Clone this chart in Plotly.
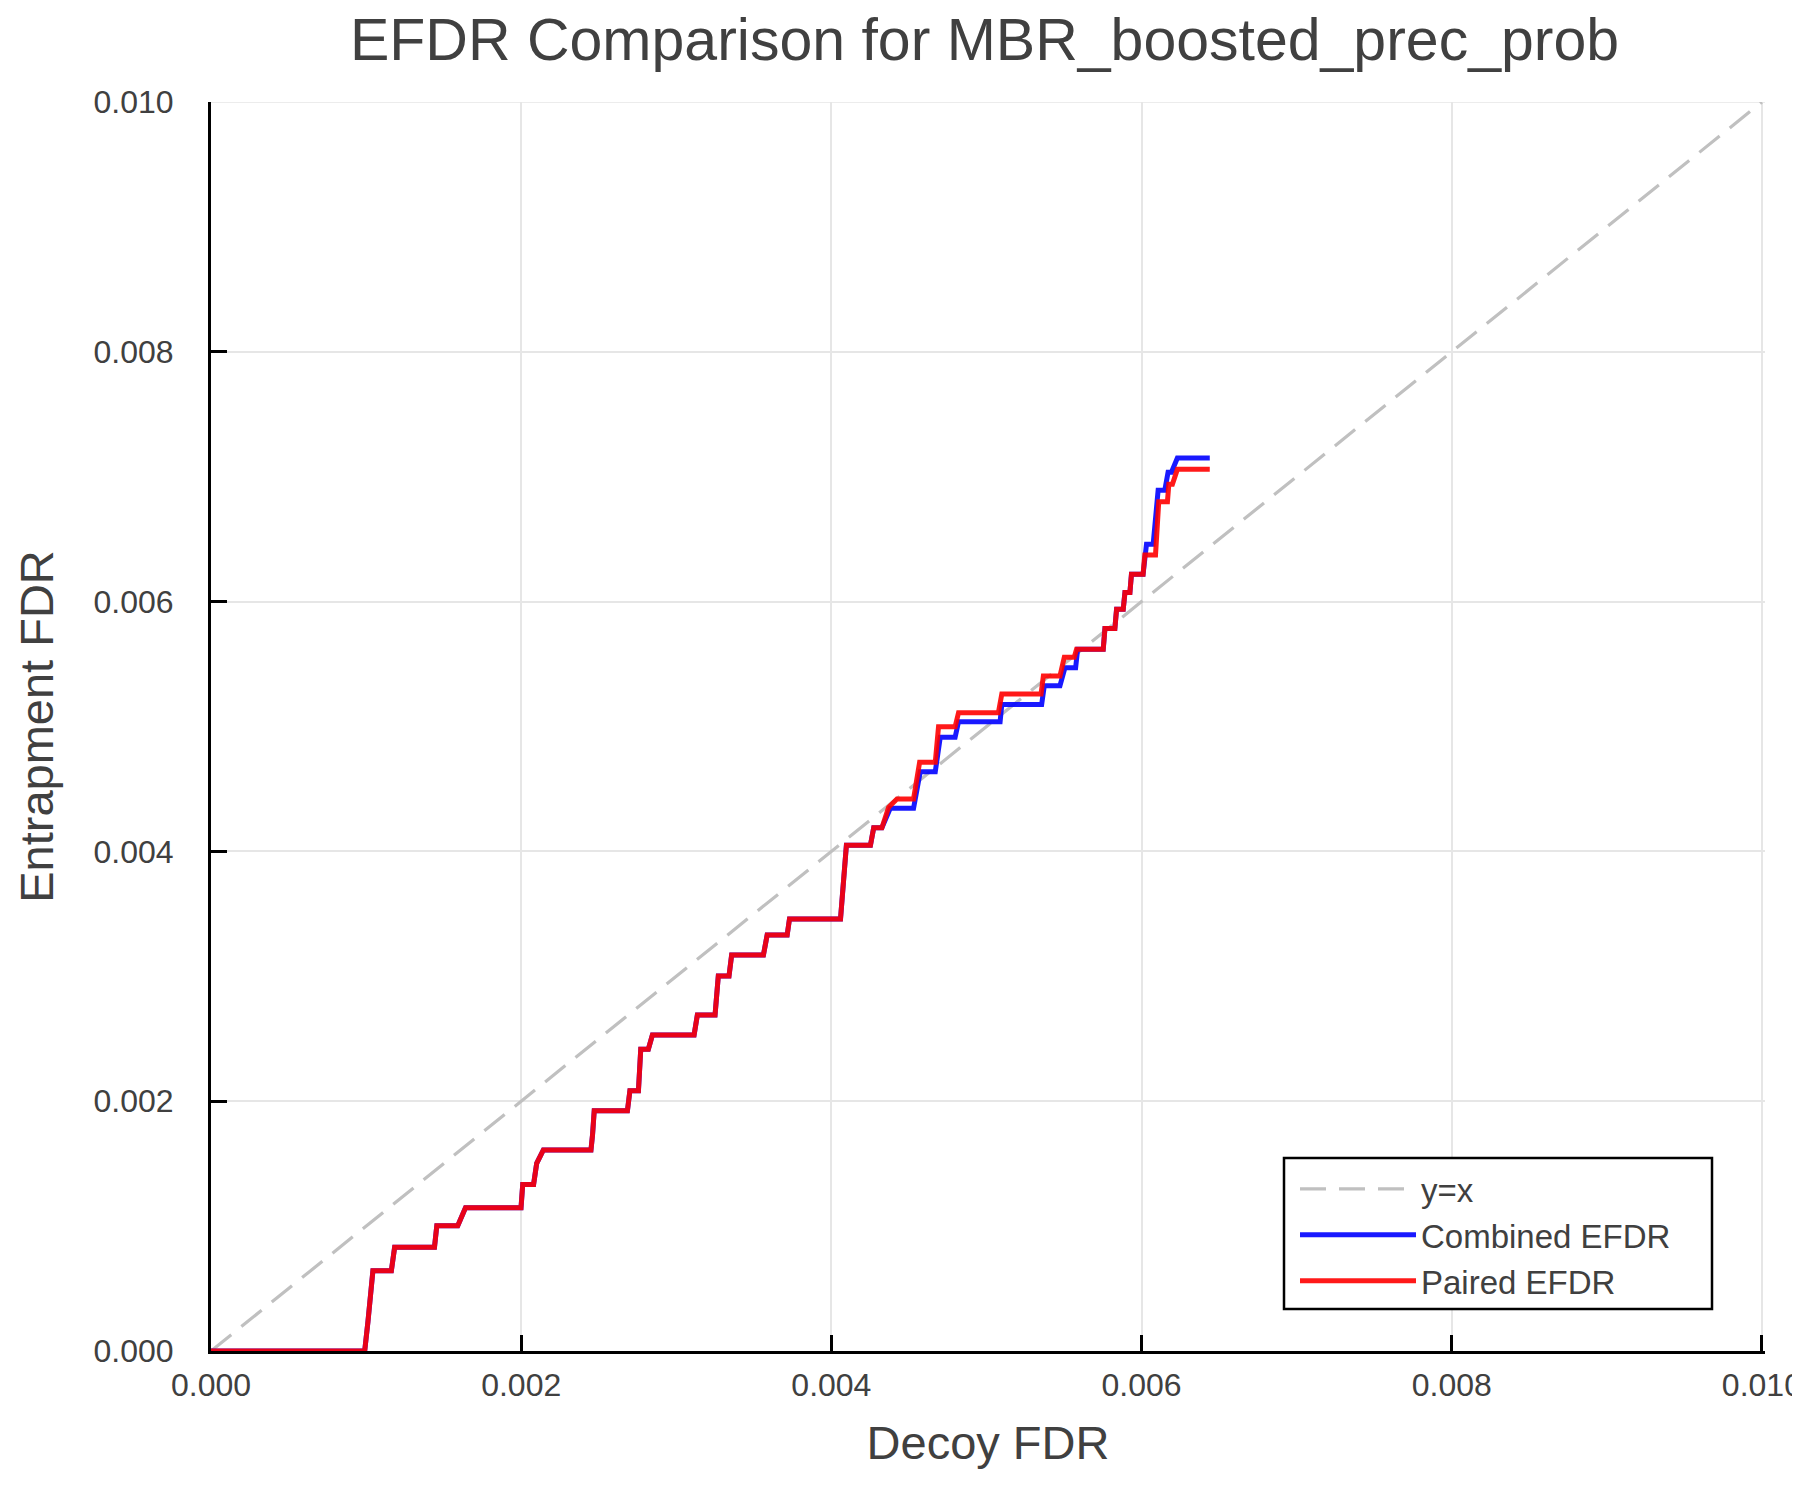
import plotly.graph_objects as go

# ---------------- data ----------------
diag_x = [0.0, 0.010]
diag_y = [0.0, 0.010]

combined_x = [0.0, 0.000991, 0.001012, 0.001044, 0.001163, 0.001184, 0.001441, 0.001456,
              0.001591, 0.001641, 0.001999, 0.002010, 0.002080, 0.002100, 0.002143, 0.002450,
              0.002460, 0.002471, 0.002685, 0.002701, 0.002756, 0.002771, 0.002820, 0.002846,
              0.003115, 0.003136, 0.003250, 0.003271, 0.003340, 0.003357, 0.003562, 0.003586,
              0.003715, 0.003730, 0.004059, 0.004073, 0.004097, 0.004252, 0.004273, 0.004326,
              0.004380, 0.004530, 0.004573, 0.004670, 0.004702, 0.004798, 0.004820, 0.005088,
              0.005099, 0.005356, 0.005373, 0.005474, 0.005506, 0.005575, 0.005588, 0.005753,
              0.005764, 0.005828, 0.005839, 0.005882, 0.005893, 0.005925, 0.005935, 0.006010,
              0.006032, 0.006075, 0.006107, 0.006150, 0.006171, 0.006193, 0.006231, 0.006440]
combined_y = [0.0, 0.0, 0.000235, 0.000643, 0.000643, 0.000830, 0.000830, 0.001003,
              0.001003, 0.001147, 0.001147, 0.001334, 0.001334, 0.001503, 0.001610, 0.001610,
              0.001729, 0.001924, 0.001924, 0.002084, 0.002084, 0.002416, 0.002416, 0.002530,
              0.002530, 0.002690, 0.002690, 0.003002, 0.003002, 0.003170, 0.003170, 0.003330,
              0.003330, 0.003459, 0.003459, 0.003717, 0.004050, 0.004050, 0.004190, 0.004190,
              0.004345, 0.004345, 0.004638, 0.004638, 0.004913, 0.004913, 0.005038, 0.005038,
              0.005177, 0.005177, 0.005327, 0.005327, 0.005470, 0.005470, 0.005618, 0.005618,
              0.005784, 0.005784, 0.005939, 0.005939, 0.006073, 0.006073, 0.006219, 0.006219,
              0.006460, 0.006460, 0.006892, 0.006892, 0.007036, 0.007036, 0.007150, 0.007150]

paired_x = [0.0, 0.000991, 0.001012, 0.001044, 0.001163, 0.001184, 0.001441, 0.001456,
            0.001591, 0.001641, 0.001999, 0.002010, 0.002080, 0.002100, 0.002143, 0.002450,
            0.002460, 0.002471, 0.002685, 0.002701, 0.002756, 0.002771, 0.002820, 0.002846,
            0.003115, 0.003136, 0.003250, 0.003271, 0.003340, 0.003357, 0.003562, 0.003586,
            0.003715, 0.003730, 0.004059, 0.004073, 0.004097, 0.004252, 0.004273, 0.004326,
            0.004369, 0.004423, 0.004530, 0.004569, 0.004670, 0.004691, 0.004798, 0.004820,
            0.005077, 0.005099, 0.005352, 0.005367, 0.005474, 0.005502, 0.005566, 0.005581,
            0.005753, 0.005764, 0.005828, 0.005839, 0.005882, 0.005893, 0.005925, 0.005935,
            0.006010, 0.006021, 0.006090, 0.006111, 0.006167, 0.006176, 0.006199, 0.006231,
            0.006440]
paired_y = [0.0, 0.0, 0.000235, 0.000643, 0.000643, 0.000830, 0.000830, 0.001003,
            0.001003, 0.001147, 0.001147, 0.001334, 0.001334, 0.001503, 0.001610, 0.001610,
            0.001729, 0.001924, 0.001924, 0.002084, 0.002084, 0.002416, 0.002416, 0.002530,
            0.002530, 0.002690, 0.002690, 0.003002, 0.003002, 0.003170, 0.003170, 0.003330,
            0.003330, 0.003459, 0.003459, 0.003717, 0.004050, 0.004050, 0.004190, 0.004190,
            0.004353, 0.004420, 0.004420, 0.004713, 0.004713, 0.004998, 0.004998, 0.005110,
            0.005110, 0.005260, 0.005260, 0.005404, 0.005404, 0.005554, 0.005554, 0.005618,
            0.005618, 0.005784, 0.005784, 0.005939, 0.005939, 0.006073, 0.006073, 0.006219,
            0.006219, 0.006373, 0.006373, 0.006800, 0.006800, 0.006939, 0.006939, 0.007059,
            0.007059]

tick_vals = [0.000, 0.002, 0.004, 0.006, 0.008, 0.010]
tick_text = ["0.000", "0.002", "0.004", "0.006", "0.008", "0.010"]

# ---------------- figure ----------------
FONT = "Liberation Sans, Arial, Helvetica, sans-serif"
TXT = "#404040"
GRID = "#e6e6e6"

fig = go.Figure()
fig.add_trace(go.Scatter(x=diag_x, y=diag_y, mode="lines", name="y=x",
                         line=dict(color="#c0c0c0", width=3.2, dash="26px,13px")))
fig.add_trace(go.Scatter(x=combined_x, y=combined_y, mode="lines", name="Combined EFDR",
                         line=dict(color="rgba(0,0,255,0.9)", width=5)))
fig.add_trace(go.Scatter(x=paired_x, y=paired_y, mode="lines", name="Paired EFDR",
                         line=dict(color="rgba(255,0,0,0.9)", width=5)))

axis_common = dict(
    tickvals=tick_vals, ticktext=tick_text,
    showgrid=True, gridcolor=GRID, gridwidth=1.5,
    zeroline=False, showline=True, linecolor="black", linewidth=3,
    ticks="inside", ticklen=16, tickwidth=2.5, tickcolor="black",
    tickfont=dict(family=FONT, size=32, color=TXT),
    mirror=False, ticklabeloverflow="allow",
)

# edge grid lines (top / right) that plotly omits at the range ends
fig.add_shape(type="line", xref="x", yref="paper", x0=tick_vals[-1], x1=tick_vals[-1], y0=0, y1=1,
              line=dict(color=GRID, width=1.5), layer="below")
fig.add_shape(type="line", xref="paper", yref="y", x0=0, x1=1, y0=tick_vals[-1], y1=tick_vals[-1],
              line=dict(color=GRID, width=1.5), layer="below")
# legend frame
fig.add_shape(type="rect", xref="paper", yref="paper",
              x0=(1284 - 211) / 1554, x1=(1712 - 211) / 1554,
              y0=(1351 - 1309) / 1249, y1=(1351 - 1158) / 1249,
              line=dict(color="black", width=2.5), fillcolor="white", layer="above")

fig.update_layout(
    width=1800, height=1500,
    paper_bgcolor="white", plot_bgcolor="white",
    margin=dict(l=203, r=43, t=94, b=157, autoexpand=False),
    title=dict(text="EFDR Comparison for MBR_boosted_prec_prob",
               font=dict(family=FONT, size=59, color=TXT),
               x=(984.5 - 8) / 1800, xanchor="center", y=1 - 31 / 1500, yanchor="middle",
               xref="container", yref="container"),
    xaxis=dict(**axis_common, range=[0, 0.01002],
               title=dict(text="Decoy FDR", font=dict(family=FONT, size=47, color=TXT), standoff=24),
               ticklabelstandoff=4),
    yaxis=dict(**axis_common, range=[0, 0.0100001],
               title=dict(text="Entrapment FDR", font=dict(family=FONT, size=47, color=TXT), standoff=26),
               ticklabelstandoff=28),
    legend=dict(x=(1295 - 211) / 1554, y=(1351 - 1161) / 1249, xanchor="left", yanchor="top",
                bgcolor="rgba(0,0,0,0)", borderwidth=0,
                font=dict(family=FONT, size=33, color=TXT),
                itemwidth=116, tracegroupgap=0),
    showlegend=True,
)

fig.write_html("out.html")
